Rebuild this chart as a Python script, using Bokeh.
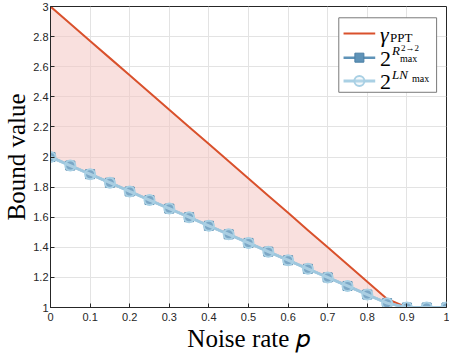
from bokeh.plotting import figure
from bokeh.models import Range1d, Label, FixedTicker
from bokeh.embed import file_html
from bokeh.resources import INLINE

# ---- data ----
noise_p = [0.0, 0.05, 0.1, 0.15, 0.2, 0.25, 0.3, 0.35, 0.4, 0.45, 0.5,
           0.55, 0.6, 0.65, 0.7, 0.75, 0.8, 0.85, 0.9, 0.95, 1.0]
gamma_ppt = [3.0, 2.886, 2.771, 2.657, 2.543, 2.429, 2.314, 2.2, 2.086, 1.971, 1.857,
             1.743, 1.629, 1.514, 1.4, 1.286, 1.171, 1.057, 1.0, 1.0, 1.0]
r_max = [2.0, 1.943, 1.886, 1.829, 1.771, 1.714, 1.657, 1.6, 1.543, 1.486, 1.429,
         1.371, 1.314, 1.257, 1.2, 1.143, 1.086, 1.029, 1.0, 1.0, 1.0]
ln_max = [2.0, 1.943, 1.886, 1.829, 1.771, 1.714, 1.657, 1.6, 1.543, 1.486, 1.429,
          1.371, 1.314, 1.257, 1.2, 1.143, 1.086, 1.029, 1.0, 1.0, 1.0]
x_ticks = [0, 0.1, 0.2, 0.3, 0.4, 0.5, 0.6, 0.7, 0.8, 0.9, 1.0]
y_ticks = [1, 1.2, 1.4, 1.6, 1.8, 2, 2.2, 2.4, 2.6, 2.8, 3]

RED = "#d9512c"
BLUE = "#5f93b8"
LBLUE = "#a9d0e4"
SERIF = "Liberation Serif"
SANS = "Liberation Sans"
AX = "#262626"

p = figure(width=449, height=354, output_backend="svg", toolbar_location=None,
           x_range=Range1d(0, 1), y_range=Range1d(1, 3),
           min_border_left=30, min_border_right=3, min_border_top=6, min_border_bottom=30)

p.background_fill_color = "white"
p.border_fill_color = "white"
p.outline_line_color = AX
p.outline_line_width = 1

for ax in (p.xaxis[0], p.yaxis[0]):
    ax.axis_line_color = AX
    ax.major_tick_line_color = AX
    ax.minor_tick_line_color = None
    ax.major_tick_in = 4
    ax.major_tick_out = 0
    ax.major_label_text_font = SANS
    ax.major_label_text_font_size = "11px"
    ax.major_label_text_color = AX
    ax.axis_label_text_font = SERIF
    ax.axis_label_text_font_style = "normal"
    ax.axis_label_text_font_size = "25px"
    ax.axis_label_text_color = "black"

p.xaxis.ticker = FixedTicker(ticks=x_ticks)
p.yaxis.ticker = FixedTicker(ticks=y_ticks)
p.xaxis.major_label_overrides = {0: "0", 1: "1"}
p.yaxis.major_label_overrides = {1: "1", 2: "2", 3: "3"}
p.xaxis.major_label_standoff = 5
p.yaxis.major_label_standoff = 2
p.yaxis.axis_label = "Bound value"
p.yaxis.axis_label_standoff = 0
p.xaxis.axis_label = "Noise rate \U0001D45D"
p.xaxis.axis_label_standoff = 1

p.grid.grid_line_color = "#e3e3e3"
p.grid.grid_line_width = 1

# shaded region between bounds
p.varea(x=noise_p, y1=r_max, y2=gamma_ppt, fill_color="#f4c6c2", fill_alpha=0.55)

p.line(noise_p, gamma_ppt, line_color=RED, line_width=2)
p.line(noise_p, r_max, line_color=BLUE, line_width=2.5)
p.scatter(noise_p, r_max, marker="square", size=9, fill_color=BLUE, line_color="#4a7fa5")
p.line(noise_p, ln_max, line_color=LBLUE, line_width=3, line_alpha=0.85)
p.scatter(noise_p, ln_max, marker="circle", size=10, fill_color="#cfe5f1",
          line_color=LBLUE, line_width=2, fill_alpha=0.25)

# ---- manual legend ----
p.quad(left=[0.728], right=[0.975], top=[2.925], bottom=[2.43],
       fill_color="white", line_color="#7a7a7a", line_width=1)
leg_y = [2.82, 2.66, 2.505]
lx0, lx1, lm, tx = 0.74, 0.82, 0.78, 0.832
p.line([lx0, lx1], [leg_y[0]] * 2, line_color=RED, line_width=2)
p.line([lx0, lx1], [leg_y[1]] * 2, line_color=BLUE, line_width=2.5)
p.scatter([lm], [leg_y[1]], marker="square", size=9, fill_color=BLUE, line_color="#4a7fa5")
p.line([lx0, lx1], [leg_y[2]] * 2, line_color=LBLUE, line_width=3)
p.scatter([lm], [leg_y[2]], marker="circle", size=10, fill_color="#cfe5f1",
          line_color=LBLUE, line_width=2, fill_alpha=0.25)

def lab(x, y, text, size, xo=0, yo=0, style="normal"):
    p.add_layout(Label(x=x, y=y, x_offset=xo, y_offset=yo, text=text, text_font=SERIF,
                       text_font_size=size, text_font_style=style, text_color="black",
                       text_align="left", text_baseline="middle"))

lab(tx, leg_y[0], "\u03b3", "22px", 0, -1, "italic")
lab(tx, leg_y[0], "PPT", "13px", 10, -4)
lab(tx, leg_y[1], "2", "22px", 0, -1)
lab(tx, leg_y[1], "R", "13px", 12, 7, "italic")
lab(tx, leg_y[1], "2\u21922", "9px", 21, 10)
lab(tx, leg_y[1], "max", "10px", 20, -1)
lab(tx, leg_y[2], "2", "22px", 0, -1)
lab(tx, leg_y[2], "LN", "13px", 12, 6, "italic")
lab(tx, leg_y[2], "max", "10px", 32, 2)

open("out.html", "w").write(file_html(p, INLINE))
